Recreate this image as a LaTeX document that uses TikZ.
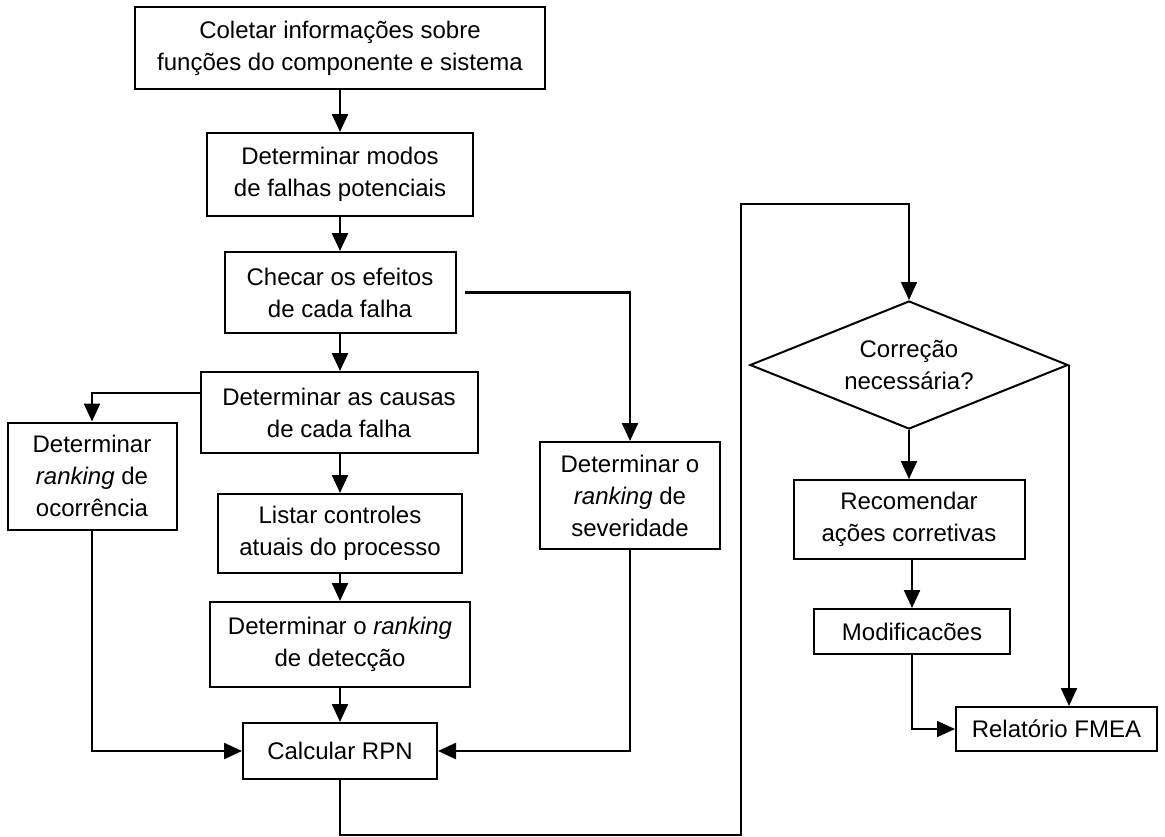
\documentclass[tikz,border=0pt]{standalone}
\usepackage{fontspec}
\setmainfont{Liberation Sans}
\usetikzlibrary{arrows.meta,shapes.geometric}
\begin{document}
\begin{tikzpicture}[x=1pt,y=-1pt,
  box/.style={draw,line width=2pt,inner sep=0pt,align=center,
    font=\fontsize{24}{32}\selectfont},
  decision/.style={draw,shape=diamond,aspect=2.5,line width=2pt,inner sep=0pt,
    align=center,minimum width=318pt,minimum height=128pt,
    font=\fontsize{24}{32}\selectfont},
  arr/.style={line width=2.4pt,-{Triangle[length=18pt,width=16pt]}},
  thinarr/.style={line width=1.6pt,-{Triangle[length=18pt,width=16pt]}}]
\useasboundingbox[fill=white] (0,0) rectangle (1165,836);

\node[box,minimum width=410pt,minimum height=82pt] (b1) at (340,48)
  {Coletar informações sobre\\funções do componente e sistema};
\node[box,minimum width=266pt,minimum height=83pt] (b2) at (340,174.5)
  {Determinar modos\\de falhas potenciais};
\node[box,minimum width=231pt,minimum height=81pt] (b3) at (340,292.5)
  {Checar os efeitos\\de cada falha};
\node[box,minimum width=277pt,minimum height=81pt] (b4) at (339,412.5)
  {Determinar as causas\\de cada falha};
\node[box,minimum width=169pt,minimum height=107pt] (ocor) at (92,476)
  {Determinar\\\textit{ranking} de\\ocorrência};
\node[box,minimum width=244pt,minimum height=79pt] (list) at (340,533.5)
  {Listar controles\\atuais do processo};
\node[box,minimum width=260pt,minimum height=85pt] (detc) at (340,644.5)
  {Determinar o \textit{ranking}\\de detecção};
\node[box,minimum width=194pt,minimum height=56pt] (rpn) at (340,751)
  {Calcular RPN};
\node[box,minimum width=180pt,minimum height=107pt] (sev) at (630,495.5)
  {Determinar o\\\textit{ranking} de\\severidade};
\node[decision] (dia) at (909,365) {Correção\\necessária?};
\node[box,minimum width=231pt,minimum height=79pt] (rec) at (909,519.5)
  {Recomendar\\ações corretivas};
\node[box,minimum width=196pt,minimum height=45pt] (mod) at (912,631.5)
  {Modificacões};
\node[box,minimum width=201pt,minimum height=44pt] (rel) at (1056.5,729)
  {Relatório FMEA};

\coordinate (lb) at (741,835);
\coordinate (lt) at (741,204);

\draw[arr] (b1) -- (b2);
\draw[arr] (b2) -- (b3);
\draw[arr] (b3.south) -- (b3.south |- b4.north);
\draw[arr] (b4.south -| list.north) -- (list.north);
\draw[arr] (list) -- (detc);
\draw[arr] (detc) -- (rpn);
\draw[arr,shorten <=8pt] (b3.east) -| (sev.north);
\draw[arr] ([yshift=19.5pt]b4.west) -| (ocor.north);
\draw[arr] (ocor.south) |- (rpn.west);
\draw[arr] (sev.south) |- (rpn.east);
\draw[thinarr] (rpn.south) |- (lb) -- (lt) -| (dia.north);
\draw[arr] (dia.south) -- (rec.north);
\draw[arr] (rec.south -| mod.north) -- (mod.north);
\draw[thinarr] (mod.south) |- (rel.west);
\draw[arr] (dia.east) -- (dia.east |- rel.north);
\end{tikzpicture}
\end{document}
